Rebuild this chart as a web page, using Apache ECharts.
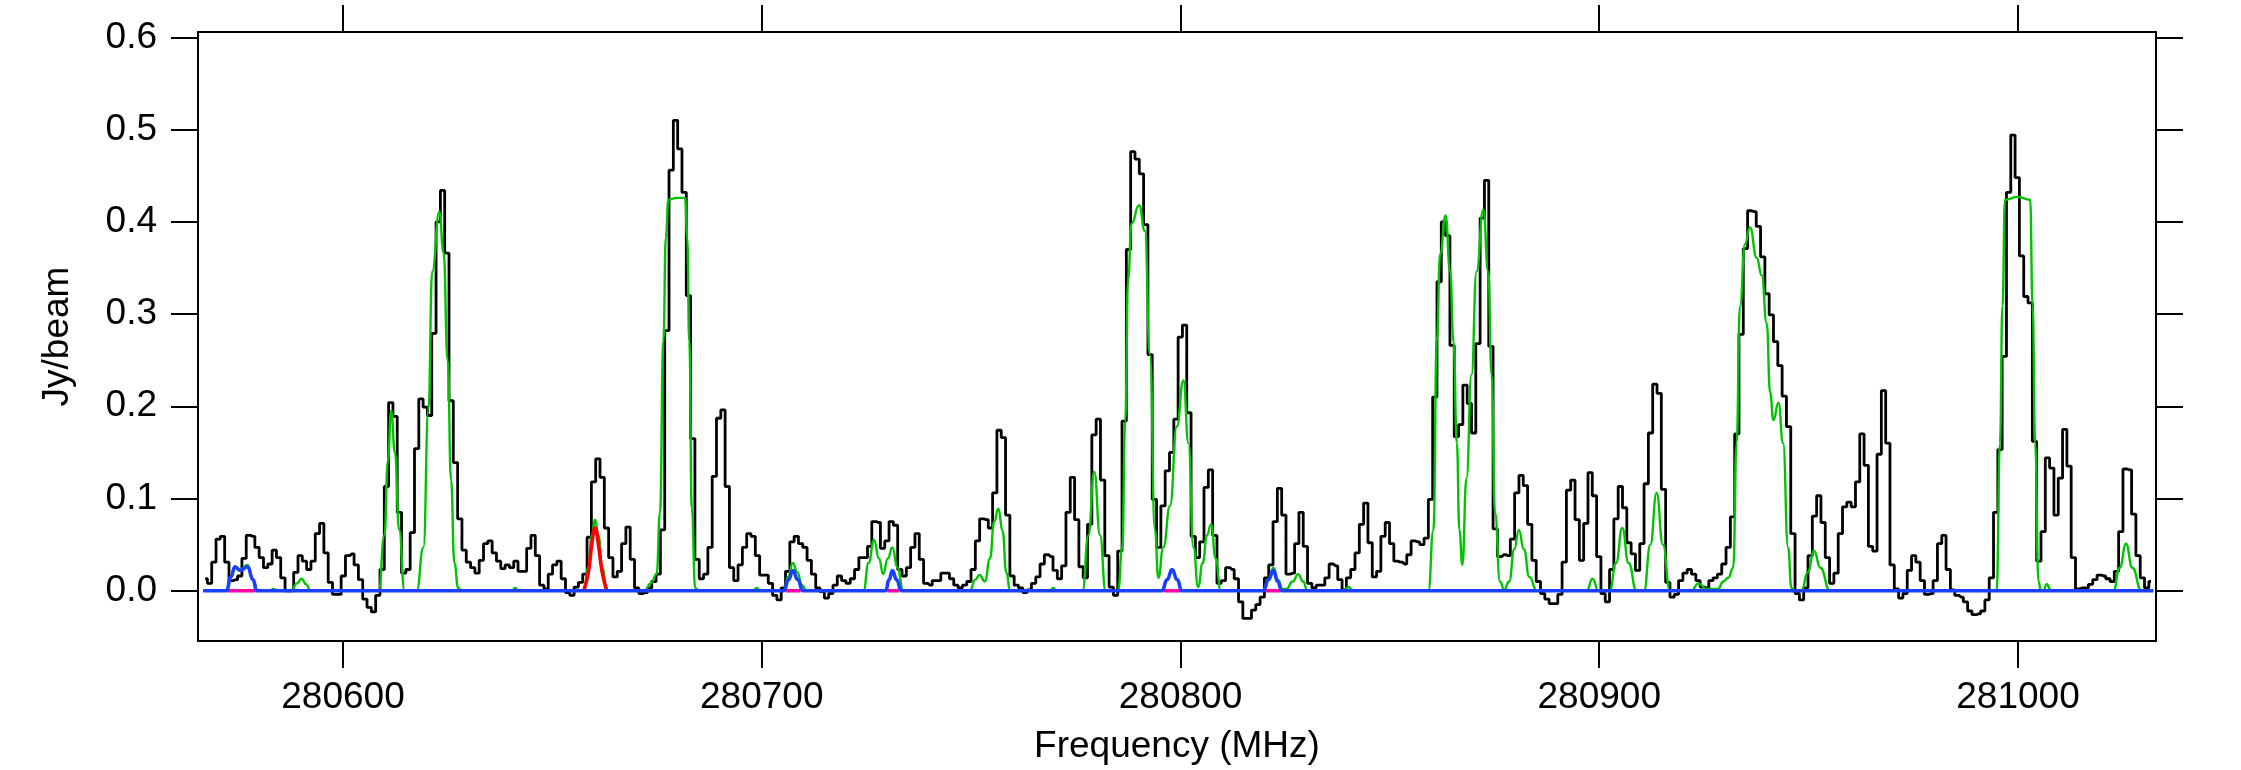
<!DOCTYPE html>
<html>
<head>
<meta charset="utf-8">
<title>spectrum</title>
<script src="https://cdn.jsdelivr.net/npm/echarts@6.0.0/dist/echarts.min.js"></script>
<style>
    html, body {margin: 0; padding: 0; background: #fff;}
    #chart {width: 2241px; height: 770px;}
</style>
</head>
<body>
<div id="chart"></div>
<script>
// observed spectrum, one value per channel, split in ~60 MHz pieces
let fluxA = [0.013, 0.008, 0.031, 0.056, 0.059, 0.031, 0.011, 0.012, 0.016, 0.035,
    0.06, 0.059, 0.047, 0.036, 0.025, 0.029, 0.044, 0.036, 0.014, 0.0,
    0.0, 0.02, 0.038, 0.032, 0.023, 0.032, 0.062, 0.073, 0.041, 0.009,
    -0.004, -0.004, 0.016, 0.038, 0.04, 0.028, 0.012, -0.009, -0.018, -0.023,
    -0.005, 0.023, 0.113, 0.204, 0.189, 0.085, 0.019, 0.023, 0.063, 0.154,
    0.208, 0.199, 0.19, 0.279, 0.4, 0.434, 0.366];
let fluxB = [0.206, 0.139, 0.078, 0.044, 0.031, 0.025, 0.019, 0.033, 0.051, 0.054,
    0.041, 0.032, 0.024, 0.028, 0.025, 0.032, 0.021, 0.021, 0.046, 0.06,
    0.038, 0.006, 0.002, 0.018, 0.028, 0.032, 0.013, -0.002, -0.005, 0.004,
    0.009, 0.018, 0.058, 0.118, 0.143, 0.123, 0.068, 0.036, 0.015, 0.021,
    0.051, 0.069, 0.034, 0.003, -0.003, -0.002, 0.003, 0.01, 0.018, 0.066,
    0.282, 0.456, 0.51, 0.479, 0.432, 0.32, 0.165, 0.034];
let fluxC = [0.013, 0.018, 0.047, 0.124, 0.187, 0.196, 0.113, 0.025, 0.011, 0.028,
    0.047, 0.062, 0.059, 0.038, 0.017, 0.017, 0.008, -0.005, -0.01, 0.003,
    0.021, 0.053, 0.059, 0.051, 0.047, 0.033, 0.018, 0.003, -0.001, -0.008,
    -0.003, 0.006, 0.016, 0.011, 0.008, 0.013, 0.023, 0.036, 0.036, 0.048,
    0.075, 0.074, 0.046, 0.054, 0.075, 0.071, 0.023, 0.016, 0.025, 0.047,
    0.062, 0.034, 0.008, 0.006, 0.011, 0.011, 0.019, 0.019];
let fluxD = [0.013, 0.006, 0.003, 0.006, 0.01, 0.023, 0.054, 0.078, 0.077, 0.068,
    0.106, 0.174, 0.166, 0.082, 0.016, 0.006, 0.003, -0.002, 0.001, 0.008,
    0.015, 0.029, 0.039, 0.037, 0.022, 0.013, 0.027, 0.085, 0.123, 0.077,
    0.026, 0.014, 0.072, 0.169, 0.186, 0.12, 0.038, 0.004, -0.005, 0.043,
    0.184, 0.37, 0.476, 0.468, 0.452, 0.397, 0.256, 0.099, 0.047, 0.092,
    0.13, 0.15, 0.186, 0.275, 0.288, 0.193, 0.059, 0.036];
let fluxE = [0.053, 0.112, 0.131, 0.06, 0.008, 0.011, 0.025, 0.023, 0.013, -0.012,
    -0.03, -0.03, -0.021, -0.015, -0.007, 0.014, 0.028, 0.075, 0.111, 0.082,
    0.018, 0.019, 0.051, 0.085, 0.048, 0.008, 0.003, 0.006, 0.006, 0.014,
    0.029, 0.027, 0.012, 0.001, 0.014, 0.023, 0.041, 0.072, 0.095, 0.052,
    0.015, 0.021, 0.059, 0.074, 0.051, 0.032, 0.031, 0.029, 0.039, 0.054,
    0.053, 0.05, 0.057, 0.099, 0.21, 0.335, 0.4, 0.385];
let fluxF = [0.266, 0.167, 0.18, 0.223, 0.203, 0.171, 0.268, 0.404, 0.445, 0.265,
    0.067, 0.037, 0.039, 0.038, 0.056, 0.106, 0.125, 0.114, 0.072, 0.033,
    0.01, -0.003, -0.009, -0.014, -0.014, -0.004, 0.031, 0.109, 0.12, 0.077,
    0.033, 0.073, 0.128, 0.103, 0.037, -0.003, -0.012, 0.023, 0.078, 0.113,
    0.09, 0.052, 0.04, 0.022, 0.051, 0.116, 0.171, 0.224, 0.214, 0.11,
    0.009, -0.007, -0.004, 0.011, 0.019, 0.023, 0.018, 0.011];
let fluxG = [0.004, 0.003, 0.011, 0.014, 0.018, 0.029, 0.047, 0.08, 0.17, 0.278,
    0.371, 0.412, 0.411, 0.395, 0.362, 0.322, 0.299, 0.27, 0.244, 0.211,
    0.178, 0.062, -0.003, -0.01, 0.003, 0.038, 0.081, 0.103, 0.074, 0.036,
    0.008, 0.019, 0.062, 0.091, 0.096, 0.091, 0.118, 0.17, 0.136, 0.048,
    0.043, 0.148, 0.217, 0.16, 0.028, 0.002, -0.008, -0.003, 0.022, 0.038,
    0.031, 0.011, -0.004, -0.003, 0.011, 0.051, 0.06, 0.023];
let fluxH = [0.001, -0.005, -0.007, -0.012, -0.022, -0.026, -0.025, -0.022, -0.01, 0.014,
    0.085, 0.153, 0.254, 0.432, 0.494, 0.448, 0.363, 0.319, 0.312, 0.162,
    0.032, 0.064, 0.144, 0.133, 0.082, 0.122, 0.175, 0.135, 0.036, 0.002,
    0.003, 0.003, 0.007, 0.012, 0.017, 0.016, 0.013, 0.01, 0.021, 0.064,
    0.132, 0.131, 0.083, 0.038, 0.014, 0.003, 0.01];

// channel grid (MHz): centre of first channel and channel width
let firstChan = 280567.1;
let chanWidth = 1.0303;

// fitted models, [MHz, Jy/beam]
let modelTotal = [
    [280566.6, 0], [280572.2, 0], [280573.2, 0.015], [280574.2, 0.026], [280575.4, 0.023], [280577.2, 0.028], [280578.5, 0.012], [280579.6, 0],
    [280582.5, 0], [280583.4, 0.002], [280584.3, 0],
    [280587.6, 0], [280589.0, 0.008], [280590.1, 0.013], [280591.2, 0.007], [280592.2, 0],
    [280608.5, 0], [280609.9, 0.06], [280610.7, 0.14], [280611.5, 0.195], [280612.4, 0.15], [280613.4, 0.066], [280614.7, 0],
    [280617.6, 0], [280619.2, 0.047], [280620.4, 0.197], [280621.3, 0.346], [280623.0, 0.411], [280624.0, 0.367], [280625.0, 0.25], [280625.8, 0.12], [280626.6, 0.03], [280627.5, 0.003], [280628.4, 0],
    [280640.3, 0], [280641.1, 0.003], [280641.9, 0],
    [280657.5, 0], [280658.6, 0.025], [280659.4, 0.06], [280660.2, 0.077], [280661.0, 0.06], [280661.9, 0.025], [280663.0, 0],
    [280672.0, 0], [280673.5, 0.008], [280674.9, 0.018], [280675.7, 0.085], [280676.5, 0.27], [280677.1, 0.383], [280677.7, 0.424], [280679.7, 0.426], [280681.7, 0.426], [280682.2, 0.383], [280682.7, 0.27], [280683.3, 0.09], [280684.1, 0.003], [280685.0, 0],
    [280697.9, 0], [280698.8, 0.003], [280699.7, 0],
    [280705.2, 0], [280706.3, 0.015], [280707.4, 0.03], [280708.5, 0.02], [280709.6, 0.006], [280710.7, 0],
    [280724.3, 0], [280725.5, 0.03], [280726.8, 0.055], [280728.0, 0.035], [280729.0, 0.018], [280730.1, 0.035], [280731.2, 0.047], [280732.4, 0.025], [280733.8, 0],
    [280749.7, 0], [280751.0, 0.012], [280752.0, 0.017], [280753.3, 0.01], [280754.5, 0.035], [280755.5, 0.075], [280756.5, 0.089], [280757.5, 0.065], [280758.4, 0.02], [280759.3, 0],
    [280768.8, 0], [280769.6, 0.003], [280770.4, 0],
    [280776.6, 0], [280778.0, 0.06], [280779.4, 0.129], [280780.8, 0.06], [280782.1, 0],
    [280785.1, 0], [280786.1, 0.047], [280786.8, 0.184], [280787.5, 0.338], [280788.3, 0.398], [280790.1, 0.418], [280791.5, 0.39], [280792.7, 0.256], [280793.9, 0.066], [280794.7, 0.014],
    [280795.9, 0.047], [280797.5, 0.092], [280799.1, 0.178], [280800.7, 0.228], [280801.9, 0.16], [280803.1, 0.047], [280804.2, 0.004],
    [280805.3, 0.03], [280806.3, 0.06], [280807.3, 0.072], [280808.4, 0.035], [280809.6, 0],
    [280819.8, 0], [280821.0, 0.012], [280822.2, 0.025], [280823.3, 0.012], [280824.3, 0.002], [280825.3, 0.002], [280826.8, 0.01], [280828.1, 0.018], [280829.3, 0.01], [280830.3, 0],
    [280839.0, 0], [280840.1, 0.004], [280841.2, 0],
    [280859.2, 0], [280860.4, 0.066], [280861.2, 0.27], [280862.0, 0.365], [280863.3, 0.407], [280864.4, 0.346], [280865.2, 0.27], [280866.0, 0.16], [280866.6, 0.066], [280867.3, 0.028],
    [280868.3, 0.122], [280869.5, 0.234], [280870.7, 0.346], [280872.3, 0.413], [280873.5, 0.346], [280874.3, 0.234], [280875.1, 0.085], [280876.3, 0.01], [280877.3, 0.001],
    [280878.5, 0.01], [280879.7, 0.045], [280880.8, 0.066], [280882.0, 0.045], [280883.3, 0.015], [280885.1, 0],
    [280897.0, 0], [280898.4, 0.013], [280899.8, 0],
    [280902.5, 0], [280904.0, 0.03], [280905.5, 0.068], [280907.0, 0.03], [280908.9, 0],
    [280910.7, 0], [280912.2, 0.05], [280913.7, 0.106], [280915.2, 0.05], [280916.9, 0],
    [280922.0, 0], [280923.7, 0.008], [280925.6, 0.002], [280928.4, 0.002], [280929.6, 0.01], [280930.8, 0.014], [280932.0, 0.025], [280932.8, 0.16], [280933.6, 0.308], [280934.8, 0.376],
    [280936.0, 0.394], [280937.6, 0.361], [280938.8, 0.342], [280940.0, 0.29], [280940.8, 0.215], [280941.6, 0.185], [280942.8, 0.204], [280943.9, 0.16], [280945.1, 0.047], [280945.9, 0.003], [280946.7, 0],
    [280948.3, 0], [280949.8, 0.02], [280951.3, 0.043], [280952.8, 0.025], [280955.1, 0],
    [280994.9, 0], [280995.7, 0.16], [280996.3, 0.309], [280996.9, 0.424], [280999.9, 0.427], [281002.9, 0.424], [281003.5, 0.309], [281004.1, 0.16], [281004.9, 0.01], [281005.5, 0],
    [281006.0, 0], [281006.9, 0.007], [281007.8, 0.001], [281008.6, 0],
    [281022.8, 0], [281024.3, 0.025], [281025.8, 0.051], [281027.3, 0.025], [281029.5, 0], [281032.3, 0]
];
let modelRed = [[280657.5, 0], [280658.6, 0.02], [280659.4, 0.05], [280660.2, 0.068], [280661.0, 0.05], [280661.9, 0.02], [280663.0, 0]];
let modelBlue = [
    [280566.6, 0], [280572.2, 0], [280573.2, 0.015], [280574.2, 0.026], [280575.4, 0.022], [280577.2, 0.026], [280578.5, 0.012], [280579.4, 0],
    [280705.3, 0], [280706.4, 0.012], [280707.4, 0.022], [280708.6, 0.012], [280709.8, 0],
    [280729.6, 0], [280730.4, 0.012], [280731.2, 0.022], [280732.2, 0.012], [280733.3, 0],
    [280795.6, 0], [280796.8, 0.012], [280798.0, 0.023], [280799.2, 0.012], [280800.3, 0],
    [280819.8, 0], [280821.0, 0.012], [280822.2, 0.022], [280823.2, 0.01], [280824.2, 0],
    [281032.3, 0]
];
// magenta pieces that show under the blue bumps
let magentaRanges = [[280572.5, 280579.0], [280705.8, 280709.3], [280730.0, 280732.8], [280796.0, 280800.0], [280820.3, 280823.8]];

let freqTicks = [280600, 280700, 280800, 280900, 281000];
let fluxTicks = [0.0, 0.1, 0.2, 0.3, 0.4, 0.5, 0.6];

let flux = fluxA.concat(fluxB, fluxC, fluxD, fluxE, fluxF, fluxG, fluxH);
let spectrum = flux.map(function (v, i) {
    return [firstChan + i * chanWidth, v];
});
let magenta = [];
magentaRanges.forEach(function (r) {
    magenta.push([r[0], 0], [r[1], 0], [r[1], '-']);
});

let font = 'Liberation Sans, Arial, Helvetica, sans-serif';
let xMin = 280565.37, xMax = 281032.96;
let yMin = -0.0545, yMax = 0.6058;

function xAxisCfg(pos, labels) {
    return {
        type: 'value', position: pos, min: xMin, max: xMax,
        name: labels ? 'Frequency (MHz)' : '', nameLocation: 'middle', nameGap: 87,
        nameTextStyle: {color: '#000', fontSize: 37, fontFamily: font},
        axisLine: {show: true, onZero: false, lineStyle: {color: '#000', width: 2}},
        axisTick: {show: true, length: 27, customValues: freqTicks, lineStyle: {color: '#000', width: 2}},
        axisLabel: {
            show: labels, customValues: freqTicks, margin: 38, color: '#000', fontSize: 37, fontFamily: font,
            formatter: function (v) {
                return String(v);
            }
        },
        splitLine: {show: false}
    };
}

function yAxisCfg(pos, labels) {
    return {
        type: 'value', position: pos, min: yMin, max: yMax,
        name: labels ? 'Jy/beam' : '', nameLocation: 'middle', nameGap: 122, nameRotate: 90,
        nameTextStyle: {color: '#000', fontSize: 37, fontFamily: font},
        axisLine: {show: true, onZero: false, lineStyle: {color: '#000', width: 2}},
        axisTick: {show: true, length: 27, customValues: fluxTicks, lineStyle: {color: '#000', width: 2}},
        axisLabel: {
            show: labels, customValues: fluxTicks, margin: 41, color: '#000', fontSize: 37, fontFamily: font,
            formatter: function (v) {
                return v.toFixed(1);
            }
        },
        splitLine: {show: false}
    };
}

let chart = echarts.init(document.getElementById('chart'), null, {renderer: 'canvas'});
chart.setOption({
    animation: false,
    backgroundColor: '#fff',
    grid: {left: 198, right: 85, top: 32, bottom: 128, containLabel: false},
    xAxis: [xAxisCfg('bottom', true), xAxisCfg('top', false)],
    yAxis: [yAxisCfg('left', true), yAxisCfg('right', false)],
    series: [
        {
            name: 'data', type: 'line', step: 'middle', data: spectrum, showSymbol: false, z: 2,
            lineStyle: {color: '#000', width: 2.8}
        },
        {
            name: 'total', type: 'line', smooth: 0.5, smoothMonotone: 'x', data: modelTotal, showSymbol: false, z: 3,
            lineStyle: {color: '#00c400', width: 2.4}
        },
        {
            name: 'red', type: 'line', smooth: 0.5, data: modelRed, showSymbol: false, z: 4,
            lineStyle: {color: '#ff0000', width: 3.6}
        },
        {
            name: 'magenta', type: 'line', data: magenta, showSymbol: false, connectNulls: false, z: 5,
            lineStyle: {color: '#ff00a8', width: 3.6}
        },
        {
            name: 'blue', type: 'line', smooth: 0.5, smoothMonotone: 'x', data: modelBlue, showSymbol: false, z: 6,
            lineStyle: {color: '#1a40ff', width: 3.6}
        }
    ]
});
</script>
</body>
</html>
